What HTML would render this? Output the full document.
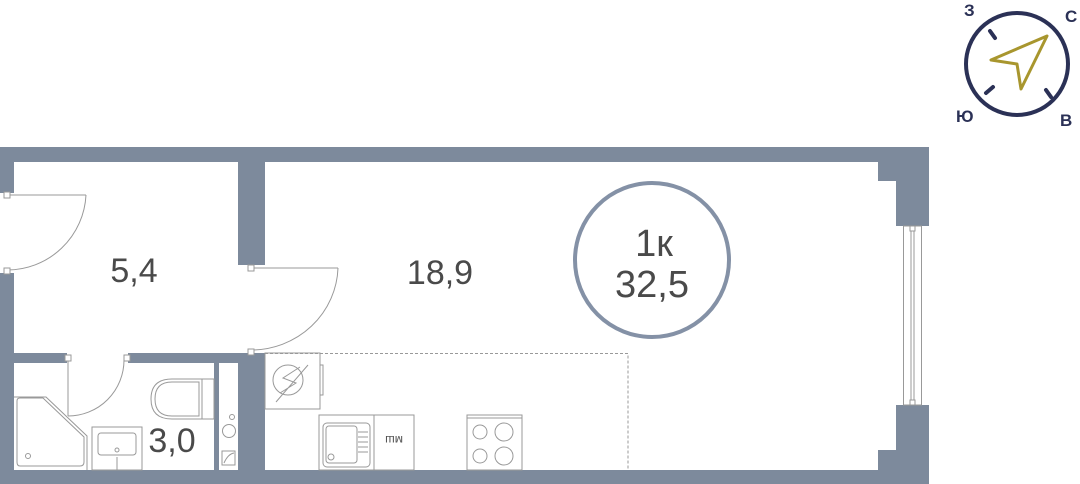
<!DOCTYPE html>
<html><head><meta charset="utf-8"><style>
html,body{margin:0;padding:0;background:#fff;}
svg{display:block;}
</style></head><body>
<svg width="1080" height="484" viewBox="0 0 1080 484" xmlns="http://www.w3.org/2000/svg" font-family="Liberation Sans, DejaVu Sans, sans-serif">
<g fill="#7d8a9c">
<rect x="0" y="147" width="929" height="15"/>
<rect x="0" y="147" width="14" height="46"/>
<rect x="0" y="273" width="14" height="211"/>
<rect x="0" y="470" width="929" height="14"/>
<rect x="238" y="147" width="27" height="118"/>
<polygon points="878,147 929,147 929,226 896,226 896,181 878,181"/>
<polygon points="896,405 929,405 929,484 878,484 878,450 896,450"/>
<rect x="14" y="353" width="53" height="10"/>
<rect x="128" y="353" width="137" height="10"/>
<rect x="238" y="353" width="27" height="131"/>
<rect x="214" y="363" width="5" height="110"/>
</g>
<g fill="none" stroke="#999" stroke-width="1">
<rect x="903.5" y="226" width="18" height="179"/>
<line x1="911" y1="230" x2="911" y2="402"/><line x1="914" y1="230" x2="914" y2="402"/>
<rect x="910" y="226" width="5" height="5" fill="#fff"/><rect x="910" y="400" width="5" height="5" fill="#fff"/>
<line x1="7" y1="195" x2="86" y2="195"/><path d="M86,195 A79,79 0 0 1 7,270"/>
<rect x="4" y="192" width="6" height="6" fill="#fff"/><rect x="4" y="268" width="6" height="6" fill="#fff"/>
<line x1="251" y1="268" x2="338" y2="268"/><path d="M338,268 A87,85 0 0 1 251,350"/>
<rect x="248" y="265" width="6" height="6" fill="#fff"/><rect x="248" y="349" width="6" height="6" fill="#fff"/>
<line x1="68" y1="357" x2="68" y2="416"/><path d="M68,416 A56,56 0 0 0 124,360"/>
<rect x="65" y="355" width="6" height="6" fill="#fff"/><rect x="124" y="355" width="6" height="6" fill="#fff"/>
<path d="M265,353.5 H628 V470" stroke-dasharray="3,2"/>
<path d="M20,398 H43 L84,437 V462 Q84,466 80,466 H20 Q17,466 17,462 V401 Q17,398 20,398Z"/>
<path d="M14,397 H46 L87,436 V470"/>
<circle cx="28" cy="456" r="2.5"/>
<rect x="92" y="427" width="50" height="43"/>
<rect x="98" y="433" width="38" height="22" rx="3"/>
<circle cx="117" cy="450" r="2"/><line x1="117" y1="457" x2="117" y2="470"/>
<path d="M202,379 H172 Q151,379 151,399 Q151,419 172,419 H202Z"/>
<path d="M199,382 H172 Q155,382 155,399 Q155,416 172,416 H199Z"/>
<rect x="202" y="379" width="12" height="40"/>
<circle cx="232" cy="417" r="2.5"/><circle cx="229" cy="431" r="6.5"/>
<rect x="222" y="451" width="13" height="14"/><path d="M224,463 Q228,454 234,453"/>
<rect x="265" y="353" width="55" height="56"/>
<rect x="320" y="365" width="3" height="30"/>
<circle cx="288" cy="380" r="15"/>
<path d="M276,402 L308,365 M300,367 L283,378 L296,383 L280,393"/>
<rect x="319" y="415" width="55" height="55"/>
<rect x="374" y="415" width="40" height="55"/>
<rect x="323" y="423" width="47" height="44" rx="4"/>
<rect x="326" y="426" width="31" height="37" rx="3"/>
<circle cx="331" cy="457" r="3"/>
<line x1="358" y1="432" x2="368" y2="432"/><line x1="358" y1="437" x2="368" y2="437"/><line x1="358" y1="442" x2="368" y2="442"/><line x1="358" y1="447" x2="368" y2="447"/><line x1="358" y1="452" x2="368" y2="452"/>
<rect x="467" y="415" width="55" height="55"/>
<line x1="467" y1="418" x2="522" y2="418"/>
<circle cx="480" cy="432" r="7"/><circle cx="504" cy="432" r="9"/>
<circle cx="480" cy="456" r="7"/><circle cx="504" cy="456" r="9"/>
</g>
<text x="394" y="444" font-size="12" fill="#555" transform="rotate(180 394 440)" text-anchor="middle">мш</text>
<g fill="#4a4a4a" font-size="34" text-anchor="middle">
<text x="134" y="282">5,4</text>
<text x="440" y="284">18,9</text>
<text x="172" y="452">3,0</text>
</g>
<g fill="#4a4a4a" font-size="38" text-anchor="middle">
<text x="654" y="256">1к</text>
<text x="652" y="297">32,5</text>
</g>
<circle cx="652" cy="260" r="77" fill="none" stroke="#8491a6" stroke-width="4"/>
<circle cx="1017" cy="64" r="51" fill="none" stroke="#2b3156" stroke-width="4"/>
<g stroke="#2b3156" stroke-width="4" stroke-linecap="round">
<line x1="990" y1="31" x2="995" y2="38"/><line x1="993" y1="87" x2="986" y2="93"/><line x1="1046" y1="90" x2="1051" y2="97"/>
</g>
<polygon points="1047,36 991,60 1017,64 1021,89" fill="none" stroke="#a8962e" stroke-width="3" stroke-linejoin="round"/>
<g fill="#2b3156" font-size="17" font-weight="bold">
<text x="964" y="16">З</text><text x="1065" y="22">С</text>
<text x="956" y="122">Ю</text><text x="1060" y="126">В</text>
</g>
</svg>
</body></html>
